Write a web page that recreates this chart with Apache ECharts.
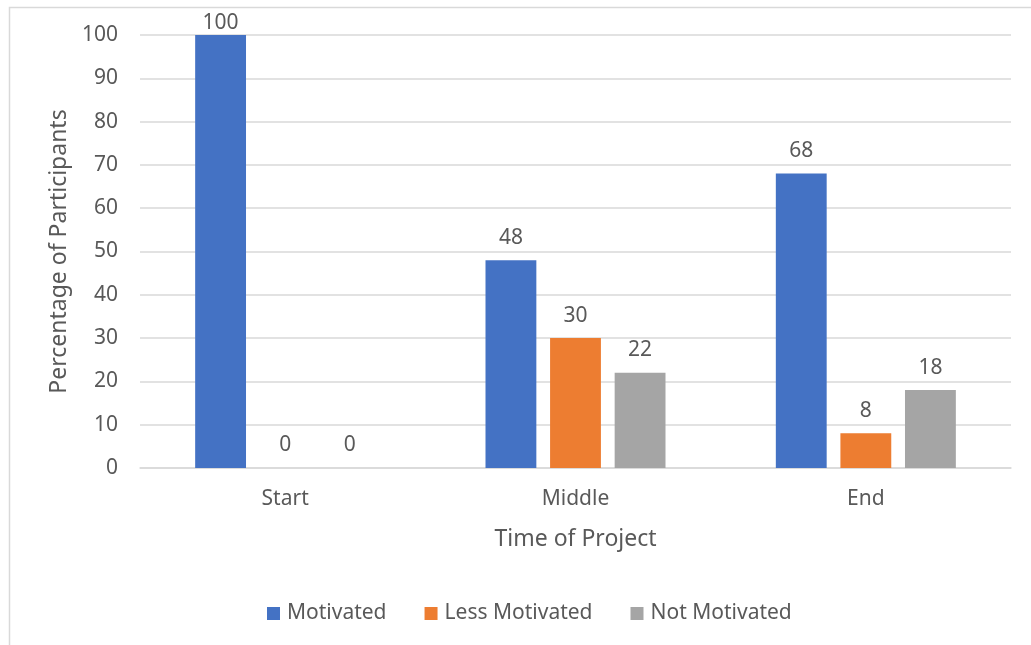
<!DOCTYPE html>
<html>
<head>
<meta charset="utf-8">
<script src="https://cdn.jsdelivr.net/npm/echarts@6/dist/echarts.min.js"></script>
<style>
  html, body { margin: 0; padding: 0; background: #ffffff; }
  #chart { width: 1031px; height: 645px; }
</style>
</head>
<body>
<div id="chart"></div>
<script>
// Phases of the project along the x axis
const categories = ['Start', 'Middle', 'End'];

// Percentage of participants per motivation level
const motivated = [100, 48, 68];
const lessMotivated = [0, 30, 8];
const notMotivated = [0, 22, 18];

const seriesNames = ['Motivated', 'Less Motivated', 'Not Motivated'];
const seriesColors = ['#4472C4', '#ED7D31', '#A5A5A5'];

// Y axis range
const yMin = 0;
const yMax = 100;
const yStep = 10;

const textColor = '#595959';
const gridColor = '#D9D9D9';
const fontFamily = '"Noto Sans", sans-serif';

const chart = echarts.init(document.getElementById('chart'), null, { renderer: 'canvas' });

// Value labels; the top-of-range label sits closer to the bar so it stays inside the frame
function buildData(values) {
  return values.map(function (v) {
    const item = { value: v };
    if (v >= yMax) {
      item.label = { distance: 1 };
    }
    return item;
  });
}

const valueSets = [motivated, lessMotivated, notMotivated];

const series = valueSets.map(function (vals, i) {
  return {
    name: seriesNames[i],
    type: 'bar',
    data: buildData(vals),
    barGap: '27%',
    barCategoryGap: '38%',
    itemStyle: { color: seriesColors[i] },
    label: {
      show: true,
      position: 'top',
      distance: 12,
      color: textColor,
      fontFamily: fontFamily,
      fontSize: 21
    }
  };
});

chart.setOption({
  backgroundColor: '#ffffff',
  animation: false,
  graphic: [{
    type: 'rect',
    left: 7,
    top: 5,
    shape: { width: 1040, height: 660 },
    style: { fill: 'none', stroke: '#D9D9D9', lineWidth: 1.5 },
    silent: true
  }],
  color: seriesColors,
  grid: { left: 140, right: 20, top: 35, bottom: 177, containLabel: false },
  legend: {
    top: 598,
    left: 262,
    itemWidth: 13,
    itemHeight: 13,
    itemGap: 38,
    icon: 'rect',
    textStyle: { color: textColor, fontFamily: fontFamily, fontSize: 21, padding: [0, 0, 0, 2] },
    data: seriesNames
  },
  xAxis: {
    type: 'category',
    data: categories,
    name: 'Time of Project',
    nameLocation: 'middle',
    nameGap: 60,
    nameTextStyle: { color: textColor, fontFamily: fontFamily, fontSize: 23 },
    axisLine: { show: true, lineStyle: { color: gridColor, width: 1.5 } },
    axisTick: { show: false },
    axisLabel: { color: textColor, fontFamily: fontFamily, fontSize: 21, margin: 21 }
  },
  yAxis: {
    type: 'value',
    min: yMin,
    max: yMax,
    interval: yStep,
    name: 'Percentage of Participants',
    nameLocation: 'middle',
    nameGap: 64,
    nameTextStyle: { color: textColor, fontFamily: fontFamily, fontSize: 23 },
    axisLine: { show: false },
    axisTick: { show: false },
    axisLabel: { color: textColor, fontFamily: fontFamily, fontSize: 21, margin: 22 },
    splitLine: { show: true, lineStyle: { color: gridColor, width: 1.5 } }
  },
  series: series
});
</script>
</body>
</html>
